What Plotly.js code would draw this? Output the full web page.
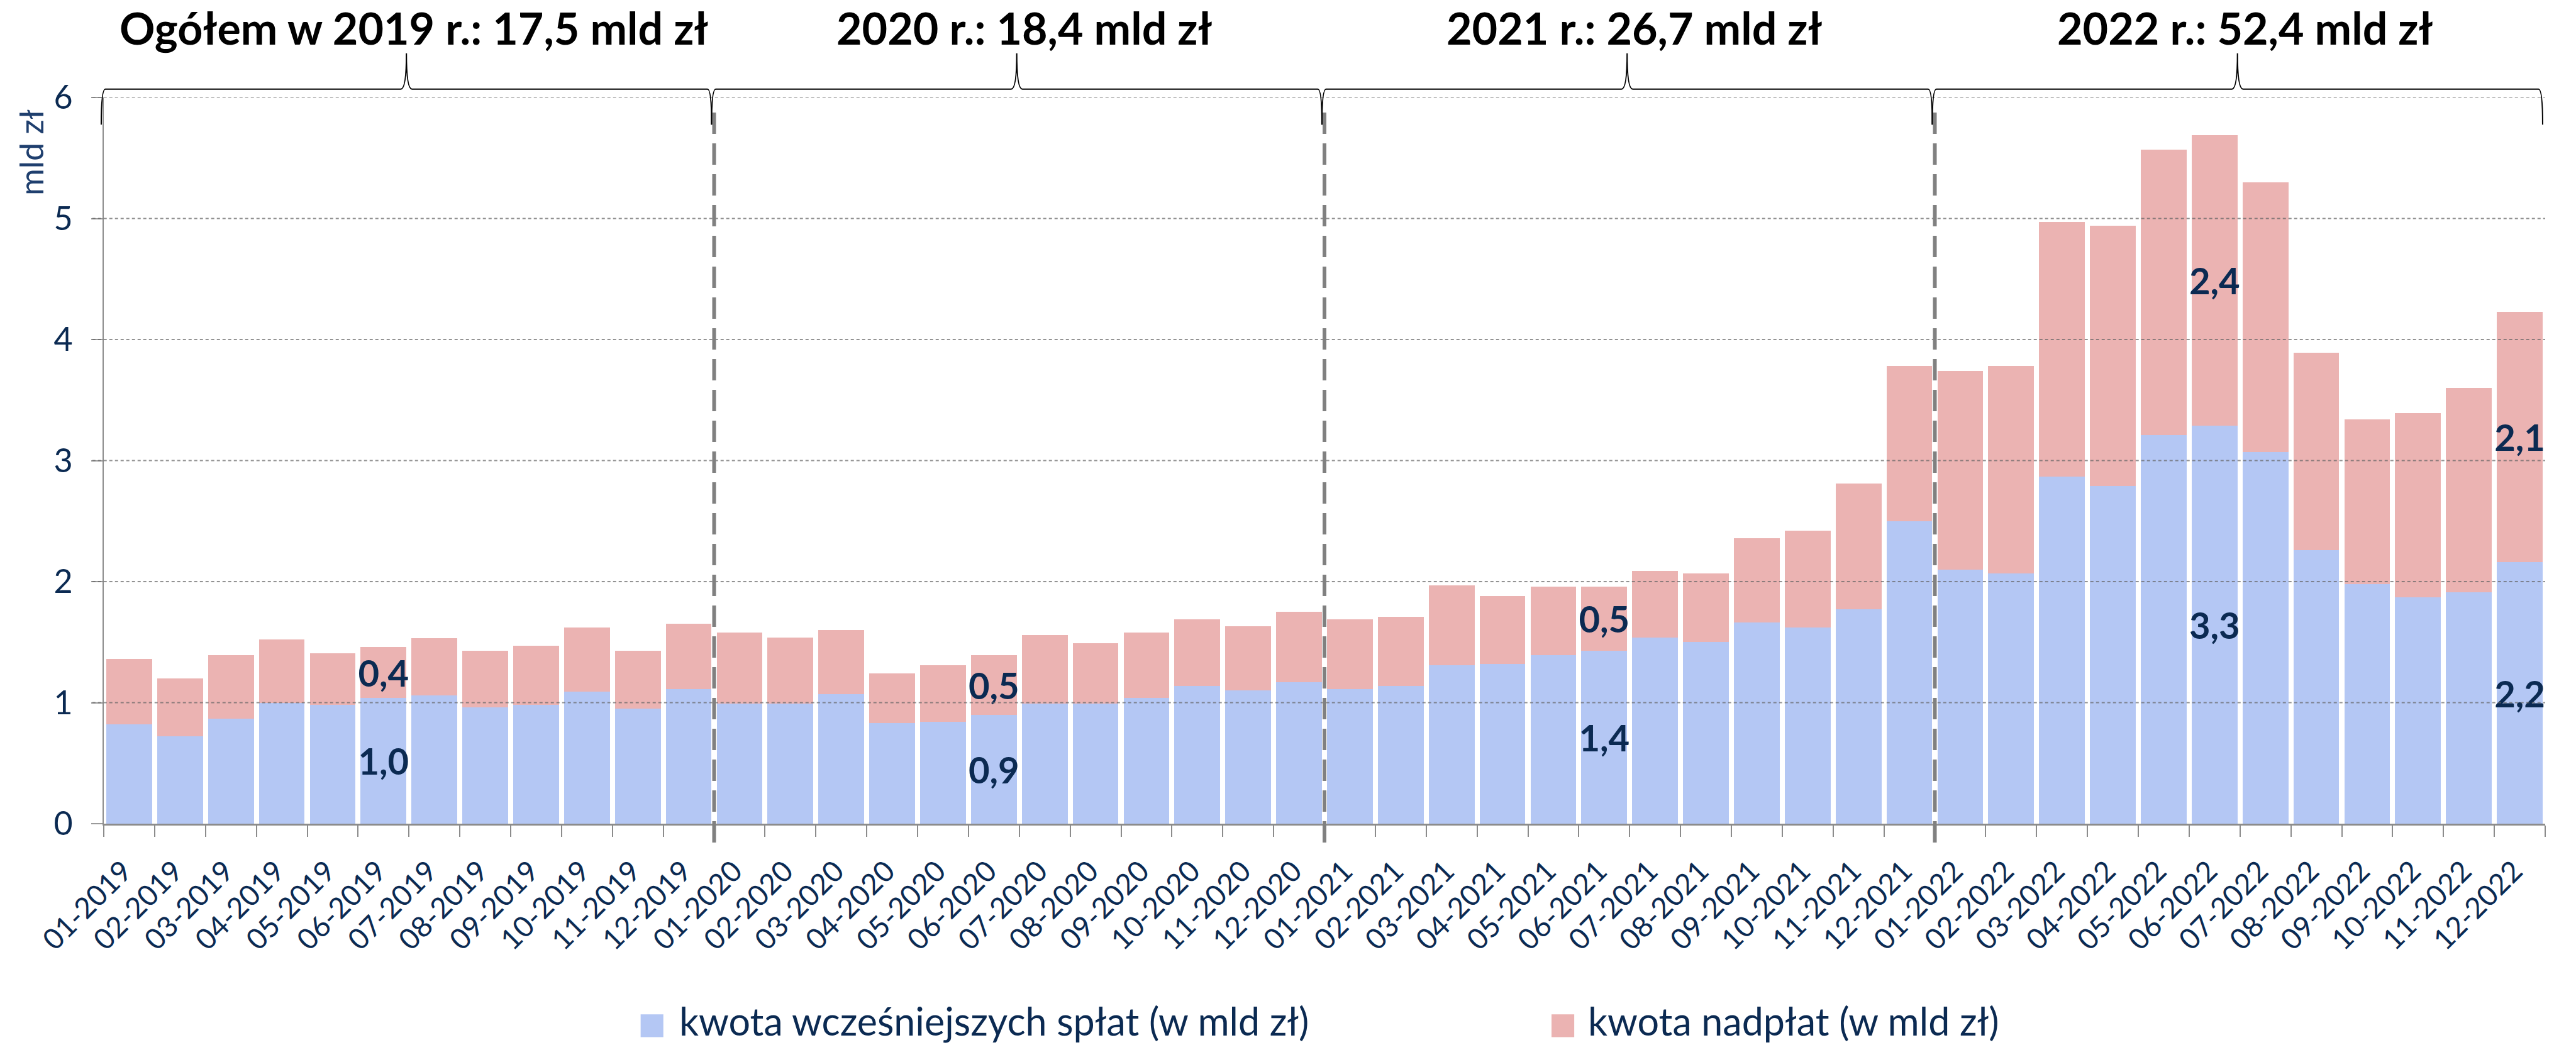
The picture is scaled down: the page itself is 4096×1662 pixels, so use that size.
<!DOCTYPE html>
<html>
<head>
<meta charset="utf-8">
<script src="https://cdn.plot.ly/plotly-3.0.1.min.js"></script>
<style>html,body{margin:0;padding:0;background:#fff;}#chart{width:4096px;height:1662px;}</style>
</head>
<body>
<div id="chart"></div>
<script>
// ---- data ----
var categories = [
  "01-2019","02-2019","03-2019","04-2019","05-2019","06-2019","07-2019","08-2019","09-2019","10-2019","11-2019","12-2019",
  "01-2020","02-2020","03-2020","04-2020","05-2020","06-2020","07-2020","08-2020","09-2020","10-2020","11-2020","12-2020",
  "01-2021","02-2021","03-2021","04-2021","05-2021","06-2021","07-2021","08-2021","09-2021","10-2021","11-2021","12-2021",
  "01-2022","02-2022","03-2022","04-2022","05-2022","06-2022","07-2022","08-2022","09-2022","10-2022","11-2022","12-2022"
];
var earlyRepayments = [
  0.82, 0.72, 0.87, 1.00, 0.98, 1.04, 1.06, 0.96, 0.98, 1.09, 0.95, 1.11,
  0.99, 0.99, 1.07, 0.83, 0.84, 0.90, 0.99, 0.99, 1.04, 1.14, 1.10, 1.17,
  1.11, 1.14, 1.31, 1.32, 1.39, 1.43, 1.54, 1.50, 1.66, 1.62, 1.77, 2.50,
  2.10, 2.07, 2.87, 2.79, 3.21, 3.29, 3.07, 2.26, 1.98, 1.87, 1.91, 2.16
];
var overpayments = [
  0.54, 0.48, 0.52, 0.52, 0.43, 0.42, 0.47, 0.47, 0.49, 0.53, 0.48, 0.54,
  0.59, 0.55, 0.53, 0.41, 0.47, 0.49, 0.57, 0.50, 0.54, 0.55, 0.53, 0.58,
  0.58, 0.57, 0.66, 0.56, 0.57, 0.53, 0.55, 0.57, 0.70, 0.80, 1.04, 1.28,
  1.64, 1.71, 2.10, 2.15, 2.36, 2.40, 2.23, 1.63, 1.36, 1.52, 1.69, 2.07
];
var labeledIndex = [5, 17, 29, 41, 47];
var seriesNames = ["kwota wcześniejszych spłat (w mld zł)", "kwota nadpłat (w mld zł)"];
var yearTitles = ["Ogółem w 2019 r.: 17,5 mld zł", "2020 r.: 18,4 mld zł", "2021 r.: 26,7 mld zł", "2022 r.: 52,4 mld zł"];
var monthsPerYear = 12;
var yTicks = [0, 1, 2, 3, 4, 5, 6];
var yAxisTitle = "mld zł";

// ---- style ----
var BLUE = "#B4C7F4", PINK = "#EBB3B2", NAVY = "#0B2A52", GRAY = "#8C8C8C";
var FONT = "Lato, 'Open Sans', sans-serif";

function fmt(v) { return v.toFixed(1).replace(".", ","); }
function labels(arr) {
  return arr.map(function (v, i) { return labeledIndex.indexOf(i) >= 0 ? fmt(v) : ""; });
}
var N = categories.length;
function px(c) { return (c + 0.5) / N; } // category serial -> paper x

var barCommon = {
  type: "bar", x: categories,
  textposition: "inside", insidetextanchor: "middle", textangle: 0,
  constraintext: "none", cliponaxis: false,
  textfont: { family: FONT, size: 58, color: NAVY, weight: "bold" },
  hoverinfo: "x+y"
};
var traces = [
  Object.assign({}, barCommon, { name: seriesNames[0], y: earlyRepayments, text: labels(earlyRepayments), marker: { color: BLUE } }),
  Object.assign({}, barCommon, { name: seriesNames[1], y: overpayments, text: labels(overpayments), marker: { color: PINK } })
];

var shapes = [];
var annotations = [];

// gridlines above bars
yTicks.forEach(function (v) {
  if (v === 0) return;
  shapes.push({ type: "line", layer: "above", xref: "paper", yref: "y", x0: -0.0047, x1: 1, y0: v, y1: v,
    line: { color: "rgba(100,100,100,0.7)", width: 2, dash: "5px,4px" } });
});

// year separators and braces
var nYears = yearTitles.length;
var yTip = 0.9625, yH = 1.0115, yTop = 1.0608;
for (var k = 0; k < nYears; k++) {
  var first = k * monthsPerYear, last = first + monthsPerYear - 1;
  if (k > 0) {
    shapes.push({ type: "line", layer: "above", xref: "x", yref: "paper", x0: first - 0.5, x1: first - 0.5, y0: -0.026, y1: 0.992,
      line: { color: "#808080", width: 6, dash: "34px,15px" } });
  }
  var a = first - 0.55, b = last + 0.45, c = (a + b) / 2, de = 0.08, dc = 0.11;
  var path = "M" + px(a) + "," + yTip +
    " Q" + px(a) + "," + yH + " " + px(a + de) + "," + yH +
    " L" + px(c - dc) + "," + yH +
    " Q" + px(c) + "," + yH + " " + px(c) + "," + yTop +
    " Q" + px(c) + "," + yH + " " + px(c + dc) + "," + yH +
    " L" + px(b - de) + "," + yH +
    " Q" + px(b) + "," + yH + " " + px(b) + "," + yTip;
  shapes.push({ type: "path", layer: "above", xref: "paper", yref: "paper", path: path,
    line: { color: "#000", width: 2 } });
  annotations.push({ xref: "paper", yref: "paper", x: px(c + 0.15), y: 1.0957, xanchor: "center", yanchor: "middle",
    text: yearTitles[k], showarrow: false, font: { family: FONT, size: 70, color: "#000", weight: "bold" } });
}

// y axis title
annotations.push({ xref: "paper", yref: "paper", x: -0.0297, y: 0.9244, xanchor: "center", yanchor: "middle",
  text: yAxisTitle, textangle: -90, showarrow: false, font: { family: FONT, size: 52, color: "#1F3F6E" } });

// custom legend
var legendItems = [
  { name: seriesNames[0], color: BLUE, sx0: 0.2199, tx: 0.2351 },
  { name: seriesNames[1], color: PINK, sx0: 0.5930, tx: 0.6074 }
];
legendItems.forEach(function (it) {
  shapes.push({ type: "rect", xref: "paper", yref: "paper", x0: it.sx0, x1: it.sx0 + 0.0093, y0: -0.294, y1: -0.2625,
    fillcolor: it.color, line: { width: 0 } });
  annotations.push({ xref: "paper", yref: "paper", x: it.tx, y: -0.2712, xanchor: "left", yanchor: "middle",
    text: it.name, showarrow: false, font: { family: FONT, size: 61, color: NAVY } });
});

var layout = {
  width: 4096, height: 1662,
  margin: { l: 165, r: 49, t: 155, b: 352 },
  paper_bgcolor: "#fff", plot_bgcolor: "#fff",
  barmode: "stack", bargap: 0.1,
  showlegend: false,
  font: { family: FONT, color: NAVY },
  xaxis: {
    type: "category", range: [-0.5, N - 0.5],
    tickmode: "array", tickvals: categories, ticktext: categories,
    tickangle: -45, tickfont: { family: FONT, size: 46, color: NAVY },
    ticks: "outside", ticklen: 18, tickwidth: 2, tickcolor: GRAY, tickson: "boundaries",
    ticklabelstandoff: 27, ticklabelshift: -9,
    showline: true, linecolor: GRAY, linewidth: 3, showgrid: false, zeroline: false
  },
  yaxis: {
    range: [0, 6], tickmode: "array", tickvals: yTicks,
    tickfont: { family: FONT, size: 52, color: NAVY },
    ticks: "outside", ticklen: 18, tickwidth: 2, tickcolor: "#9A9A9A",
    ticklabelstandoff: 19,
    showline: true, linecolor: GRAY, linewidth: 2, showgrid: false, zeroline: false
  },
  shapes: shapes,
  annotations: annotations
};

Plotly.newPlot("chart", traces, layout, { displayModeBar: false, staticPlot: true });
</script>
</body>
</html>
